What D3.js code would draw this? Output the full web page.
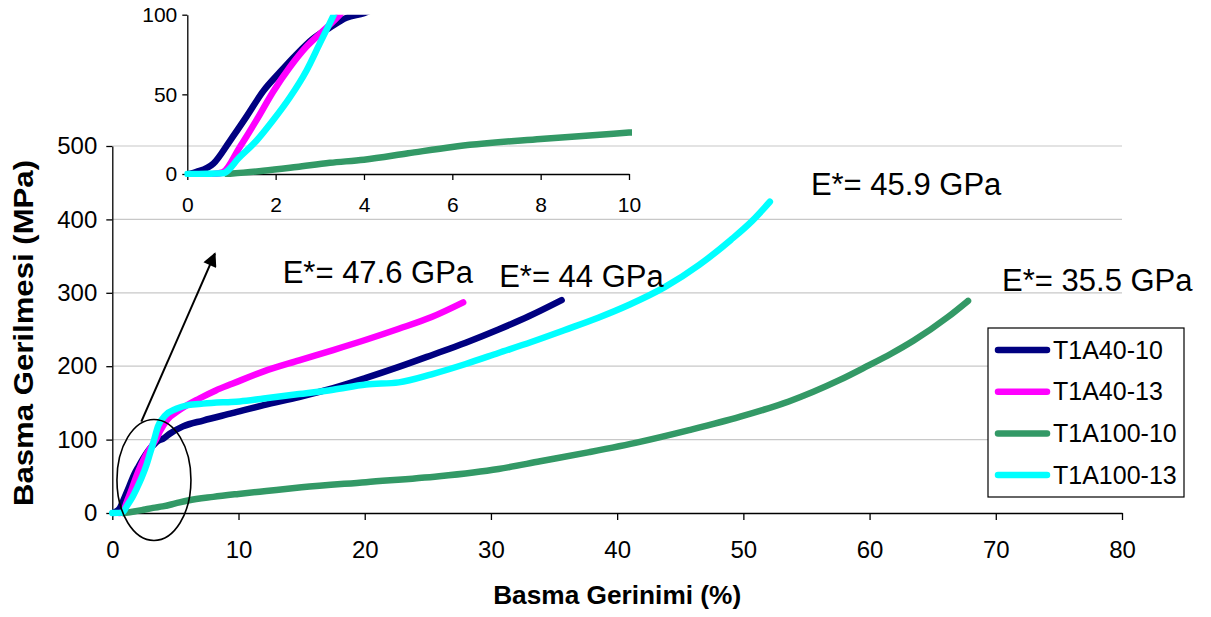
<!DOCTYPE html>
<html><head><meta charset="utf-8">
<script src="https://cdn.jsdelivr.net/npm/d3@7"></script>
<style>
body{margin:0;background:#fff}
svg{display:block}
text{font-family:"Liberation Sans", Arial, sans-serif; fill:#000}
</style>
</head><body>
<svg id="c" width="1211" height="617"></svg>
<script>
// ---------- data ----------
const seriesNames = ["T1A40-10", "T1A40-13", "T1A100-10", "T1A100-13"];
const seriesColors = ["#000080", "#FF00FF", "#339966", "#00FFFF"];

const strain_T1A40_10 = [0.05, 0.21, 0.59, 0.97, 1.34, 1.72, 2.1, 2.47, 2.85, 3.23, 3.6, 4.0, 4.55, 5.6, 7.2, 9.5, 12, 14.8, 17.5, 20.1, 22.7, 25.3, 28, 30.6, 33, 35.6];
const stress_T1A40_10 = [0, 1.3, 6.5, 21, 36, 52, 64, 75, 85, 92, 98, 101, 108, 118, 126, 136, 147, 158, 170, 184, 199, 215, 232, 250, 268, 290];

const strain_T1A40_13 = [0.6, 0.8, 1.19, 1.57, 1.95, 2.32, 2.7, 3.08, 3.45, 3.8, 4.3, 5.3, 6.9, 8.2, 9.5, 12, 14.8, 17.5, 20.1, 22.7, 25.3, 27.8];
const stress_T1A40_13 = [0, 1, 17, 34, 52, 67, 80, 90, 100, 112, 126, 140, 156, 167, 176, 193, 208, 222, 236, 251, 267, 287];

const strain_T1A100_10 = [0.9, 1.72, 2.47, 3.23, 4.0, 5, 6, 8, 10, 12.2, 15, 20.1, 25.9, 30.6, 33.9, 37.8, 41.8, 45.7, 49.7, 53.6, 57.6, 59.8, 61.7, 63.5, 66.2, 67.8];
const stress_T1A100_10 = [0, 2, 4.4, 7, 9, 13, 17, 22, 26, 30, 35, 42, 50, 60, 70.5, 83, 97, 113, 131, 152, 181, 200, 217, 235, 267, 289];

const strain_T1A100_13 = [0, 0.8, 1.19, 1.57, 1.95, 2.32, 2.7, 3.0, 3.3, 3.62, 4.2, 5.07, 6, 7.2, 9, 10.1, 12, 14.8, 17.5, 20.1, 22.7, 25.3, 28, 30.6, 33.2, 35.8, 38.5, 41, 43.8, 46.5, 49, 50.7, 52.1];
const stress_T1A100_13 = [0, 0.5, 10.7, 21, 34, 48, 65, 82, 99, 118, 133, 142, 147, 149, 151, 152, 156, 162, 168, 175, 178, 189, 203, 218, 233, 249, 266, 284, 308, 338, 372, 398, 424];

const xTicks = [0, 10, 20, 30, 40, 50, 60, 70, 80];
const yTicks = [0, 100, 200, 300, 400, 500];
const insetXTicks = [0, 2, 4, 6, 8, 10];
const insetYTicks = [0, 50, 100];

const annotationTexts = ["E*= 47.6 GPa", "E*= 44 GPa", "E*= 45.9 GPa", "E*= 35.5 GPa"];
const annotationX = [13.5, 30.65, 55.35, 70.5];
const annotationY = [313, 308, 432.6, 302];

const xTitle = "Basma Gerinimi (%)";
const yTitle = "Basma Gerilmesi (MPa)";

// ---------- build ----------
const strains = [strain_T1A40_10, strain_T1A40_13, strain_T1A100_10, strain_T1A100_13];
const stresses = [stress_T1A40_10, stress_T1A40_13, stress_T1A100_10, stress_T1A100_13];
const series = seriesNames.map((n, i) => ({
  name: n, color: seriesColors[i],
  pts: strains[i].map((s, j) => [s, stresses[i][j]])
}));

const svg = d3.select("#c");

const x = d3.scaleLinear().domain([0, 80]).range([112.3, 1122]);
const y = d3.scaleLinear().domain([0, 500]).range([513, 146]);

// gridlines
svg.append("g").selectAll("line").data(yTicks.filter(v => v > 0)).join("line")
  .attr("x1", x(0)).attr("x2", x(80))
  .attr("y1", d => y(d)).attr("y2", d => y(d))
  .attr("stroke", "#c8c8c8").attr("stroke-width", 1.2);

function styleAxis(g, fs) {
  g.selectAll("path,line").attr("stroke", "#000").attr("stroke-width", 1.3);
  g.selectAll("text").attr("font-size", fs).attr("fill", "#000")
    .attr("font-family", '"Liberation Sans", Arial, sans-serif');
}

svg.append("g").attr("transform", `translate(0,${y(0)})`)
  .call(d3.axisBottom(x).tickValues(xTicks).tickSize(7).tickPadding(21).tickSizeOuter(0))
  .call(g => styleAxis(g, 24));
svg.append("g").attr("transform", `translate(${x(0)},0)`)
  .call(d3.axisLeft(y).tickValues(yTicks).tickSize(6).tickPadding(9).tickSizeOuter(0))
  .call(g => styleAxis(g, 24));

// titles
svg.append("text").attr("x", (x(0) + x(80)) / 2).attr("y", 604)
  .attr("text-anchor", "middle").attr("font-weight", "bold").attr("font-size", 25)
  .attr("textLength", 248).attr("lengthAdjust", "spacingAndGlyphs")
  .text(xTitle);
svg.append("text").attr("transform", "translate(33,333) rotate(-90)")
  .attr("text-anchor", "middle").attr("font-weight", "bold").attr("font-size", 27)
  .attr("textLength", 346).attr("lengthAdjust", "spacingAndGlyphs")
  .text(yTitle);

// main series
const line = d3.line().x(d => x(d[0])).y(d => y(d[1])).curve(d3.curveMonotoneX);
svg.append("g").selectAll("path").data(series).join("path")
  .attr("d", d => line(d.pts)).attr("fill", "none")
  .attr("stroke", d => d.color).attr("stroke-width", 6.5)
  .attr("stroke-linecap", "round").attr("stroke-linejoin", "round");

// annotations
svg.append("g").selectAll("text").data(annotationTexts).join("text")
  .attr("x", (d, i) => x(annotationX[i])).attr("y", (d, i) => y(annotationY[i]))
  .attr("font-size", 31).text(d => d);

// ellipse + arrow
svg.append("ellipse").attr("cx", x(3.3)).attr("cy", y(45)).attr("rx", 37).attr("ry", 60.5)
  .attr("fill", "none").attr("stroke", "#000").attr("stroke-width", 1.6);
const defs = svg.append("defs");
defs.append("marker").attr("id", "ah").attr("viewBox", "0 0 10 10").attr("refX", 9).attr("refY", 5)
  .attr("markerWidth", 8).attr("markerHeight", 7).attr("markerUnits", "strokeWidth").attr("orient", "auto")
  .append("path").attr("d", "M0,0 L10,5 L0,10 z").attr("fill", "#000");
svg.append("line").attr("x1", x(2.3)).attr("y1", y(124.5)).attr("x2", x(8.13)).attr("y2", y(353.5))
  .attr("stroke", "#000").attr("stroke-width", 2).attr("marker-end", "url(#ah)");

// legend
const lg = svg.append("g");
lg.append("rect").attr("x", 988).attr("y", 328).attr("width", 196).attr("height", 169)
  .attr("fill", "#fff").attr("stroke", "#000").attr("stroke-width", 1.2);
const li = lg.selectAll("g").data(series).join("g")
  .attr("transform", (d, i) => `translate(0,${350 + i * 41.7})`);
li.append("line").attr("x1", 998).attr("x2", 1047).attr("stroke", d => d.color)
  .attr("stroke-width", 6.5).attr("stroke-linecap", "round");
li.append("text").attr("x", 1053).attr("y", 8.5).attr("font-size", 25).text(d => d.name);

// ---------- inset ----------
const xi = d3.scaleLinear().domain([0, 10]).range([187.3, 629]);
const yi = d3.scaleLinear().domain([0, 100]).range([174, 14.7]);
const ins = svg.append("g");
ins.append("g").attr("transform", `translate(0,${yi(0)})`)
  .call(d3.axisBottom(xi).tickValues(insetXTicks).tickSize(6).tickPadding(17).tickSizeOuter(0))
  .call(g => styleAxis(g, 21));
ins.append("g").attr("transform", `translate(${xi(0)},0)`)
  .call(d3.axisLeft(yi).tickValues(insetYTicks).tickSize(5).tickPadding(5).tickSizeOuter(0))
  .call(g => styleAxis(g, 21));
defs.append("clipPath").attr("id", "ic").append("rect")
  .attr("x", xi(0) - 3).attr("y", yi(100)).attr("width", xi(10) - xi(0) + 6).attr("height", yi(0) - yi(100) + 3);
const linei = d3.line().x(d => xi(d[0])).y(d => yi(d[1])).curve(d3.curveMonotoneX);
ins.append("g").attr("clip-path", "url(#ic)").selectAll("path").data(series).join("path")
  .attr("d", d => linei(d.pts.filter((p, j, a) => j === 0 || a[j - 1][0] <= 12))).attr("fill", "none")
  .attr("stroke", d => d.color).attr("stroke-width", 6.5)
  .attr("stroke-linecap", "round").attr("stroke-linejoin", "round");
</script>
</body></html>
